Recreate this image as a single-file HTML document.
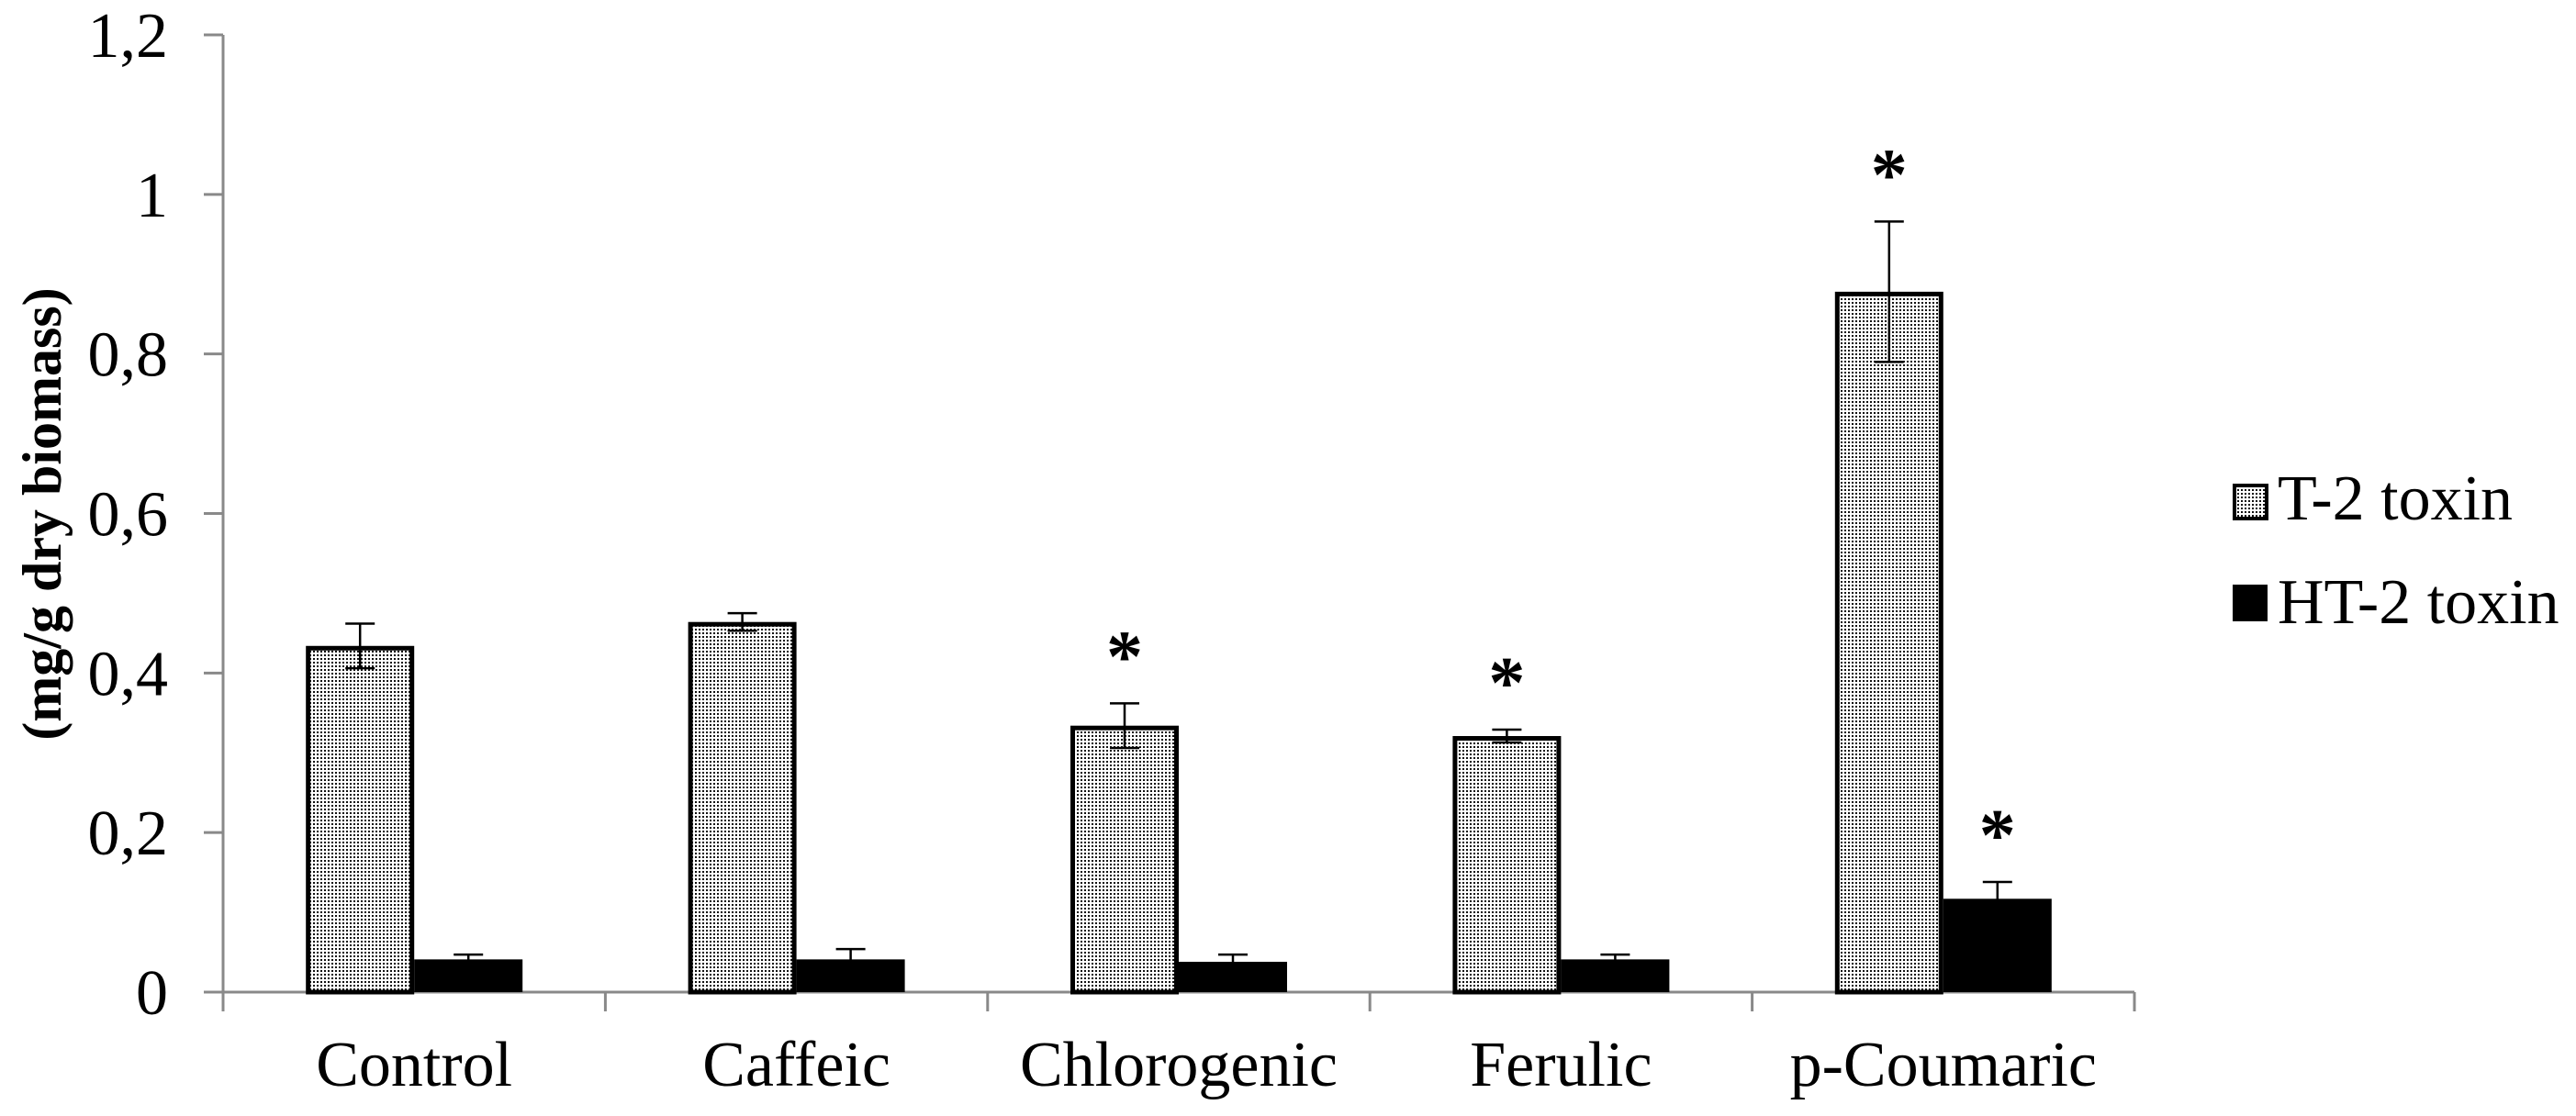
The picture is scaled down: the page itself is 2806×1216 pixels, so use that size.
<!DOCTYPE html>
<html><head><meta charset="utf-8"><style>
html,body{margin:0;padding:0;background:#fff;}
svg{display:block;}
text{font-family:"Liberation Serif","Times New Roman",serif;}
</style></head><body>
<svg id="chart" width="2806" height="1216" viewBox="0 0 2806 1216" xmlns="http://www.w3.org/2000/svg" font-family="Liberation Serif, serif">
<defs>
<pattern id="dots" width="4" height="4" patternUnits="userSpaceOnUse">
<rect width="4" height="4" fill="#fff"/><rect x="1" y="1" width="2" height="2" fill="#111"/>
</pattern>
</defs>
<g id="grid"></g>
<g id="bars"></g>
<g id="labels"></g>
<text font-family="Liberation Serif, serif" transform="translate(66,560) rotate(-90)" text-anchor="middle" font-size="60" font-weight="bold">(mg/g dry biomass)</text>
<g>
<rect x="2434" y="529" width="35" height="36" fill="url(#dots)" stroke="#000" stroke-width="4"/>
<text font-family="Liberation Serif, serif" x="2481" y="566" font-size="70">T-2 toxin</text>
<rect x="2432" y="637" width="38" height="40" fill="#000"/>
<text font-family="Liberation Serif, serif" x="2481" y="679" font-size="70">HT-2 toxin</text>
</g>
</svg>
<script>
const categories = ["Control","Caffeic","Chlorogenic","Ferulic","p-Coumaric"];
const t2Values = [0.434, 0.464, 0.334, 0.321, 0.878];
const t2Errors = [0.028, 0.011, 0.028, 0.008, 0.088];
const ht2Values = [0.041, 0.041, 0.038, 0.041, 0.117];
const ht2Errors = [0.006, 0.013, 0.009, 0.006, 0.021];
const t2Signif = [false, false, true, true, true];
const ht2Signif = [false, false, false, false, true];
const yTicks = [0, 0.2, 0.4, 0.6, 0.8, 1, 1.2];
const yTickLabels = ["0","0,2","0,4","0,6","0,8","1","1,2"];

const NS = "http://www.w3.org/2000/svg";
const X0 = 243, X1 = 2325, Y0 = 1081, YMAX = 1.2, YTOP = 38;
const bandW = (X1 - X0) / categories.length;
function yScale(v){ return Y0 - v / YMAX * (Y0 - YTOP); }
function xCenter(i){ return X0 + bandW * (i + 0.5); }
function mk(tag, attrs, parent){ const e = document.createElementNS(NS, tag); for (const k in attrs) e.setAttribute(k, attrs[k]); parent.appendChild(e); return e; }

const grid = document.getElementById('grid');
const bars = document.getElementById('bars');
const labels = document.getElementById('labels');
const axisColor = "#898989";

let yAxis = mk('line', {x1:X0, y1:YTOP, x2:X0, y2:Y0+21, stroke:axisColor, 'stroke-width':3}, grid);


let xAxis = mk('line', {x1:X0-21, y1:Y0, x2:X1, y2:Y0, stroke:axisColor, 'stroke-width':3}, grid);



yTicks.forEach((v, i) => {
  const y = yScale(v);
  const t = mk('line', {x1:X0-21, y1:y, x2:X0, y2:y, stroke:axisColor, 'stroke-width':3}, grid);
  
  
  const tx = mk('text', {x:183, y:y+24, 'text-anchor':'end', 'font-size':70}, labels);
  
  
  tx.textContent = yTickLabels[i];
});

for (let i = 0; i <= categories.length; i++) {
  const x = X0 + bandW * i;
  const t = mk('line', {x1:x, y1:Y0, x2:x, y2:Y0+21, stroke:axisColor, 'stroke-width':3}, grid);
  
  
}

const barW = 118;
function star(x, yTopErr){
  const s = mk('text', {x:x, y:yTopErr - 60 + 36, 'text-anchor':'middle', 'font-size':80, 'font-weight':'bold'}, labels);
  
  
  s.textContent = '*';
}
function errBar(x, v, e){
  const g = mk('g', {stroke:'#000', 'stroke-width':2.5}, bars);
  
  
  mk('line', {x1:x, y1:yScale(v+e), x2:x, y2:yScale(v-e)}, g);
  mk('line', {x1:x-16, y1:yScale(v+e), x2:x+16, y2:yScale(v+e)}, g);
  mk('line', {x1:x-16, y1:yScale(v-e), x2:x+16, y2:yScale(v-e)}, g);
}

categories.forEach((c, i) => {
  const cx = xCenter(i);
  const tx0 = cx - barW, ty = yScale(t2Values[i]);
  const b1 = mk('rect', {x:tx0+2.5, y:ty+2.5, width:barW-5, height:Y0-ty-2.5, fill:'url(#dots)', stroke:'#000', 'stroke-width':5}, bars);
  
  
  const hy = yScale(ht2Values[i]);
  const b2 = mk('rect', {x:cx, y:hy, width:barW, height:Y0-hy, fill:'#000'}, bars);
  
  
  errBar(cx - barW/2, t2Values[i], t2Errors[i]);
  errBar(cx + barW/2, ht2Values[i], ht2Errors[i]);
  if (t2Signif[i]) star(cx - barW/2, yScale(t2Values[i] + t2Errors[i]));
  if (ht2Signif[i]) star(cx + barW/2, yScale(ht2Values[i] + ht2Errors[i]));
  const l = mk('text', {x:cx, y:1183, 'text-anchor':'middle', 'font-size':70}, labels);
  
  
  l.textContent = c;
});
</script>
</body></html>
